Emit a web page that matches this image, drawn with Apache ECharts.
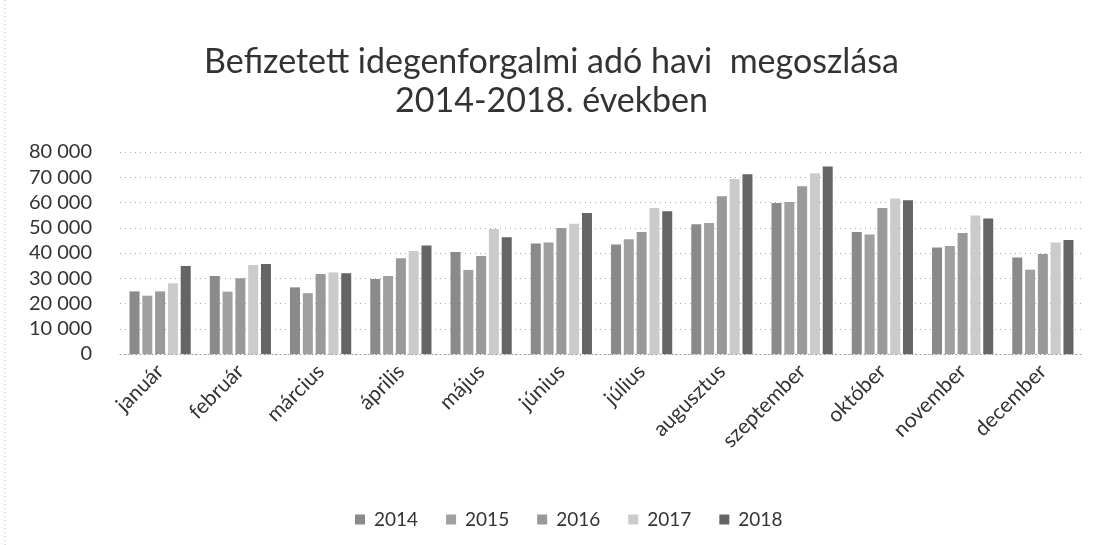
<!DOCTYPE html>
<html>
<head>
<meta charset="utf-8">
<script src="https://cdn.jsdelivr.net/npm/echarts@6/dist/echarts.min.js"></script>
<style>
  html, body { margin: 0; padding: 0; background: #fff; }
  #chart { width: 1103px; height: 545px; }
</style>
</head>
<body>
<div id="chart"></div>
<script>
// Monthly tourist tax receipts (HUF thousand), 2014–2018
const months = ['január', 'február', 'március', 'április', 'május', 'június',
  'július', 'augusztus', 'szeptember', 'október', 'november', 'december'];
const years = ['2014', '2015', '2016', '2017', '2018'];

const v2014 = [24800, 30900, 26400, 29700, 40400, 43800, 43400, 51400, 59800, 48300, 42200, 38200];
const v2015 = [23100, 24700, 24100, 30900, 33300, 44200, 45400, 51900, 60200, 47300, 42800, 33400];
const v2016 = [24800, 30000, 31700, 37900, 38800, 49900, 48300, 62500, 66400, 57800, 47900, 39600];
const v2017 = [28000, 35200, 32300, 40800, 49500, 51600, 57800, 69300, 71600, 61600, 54900, 44200];
const v2018 = [34900, 35600, 32000, 43000, 46200, 55800, 56500, 71200, 74300, 60900, 53700, 45100];

const yTicks = { min: 0, max: 80000, interval: 10000 };

const seriesValues = [v2014, v2015, v2016, v2017, v2018];
const barColors = ['#8a8a8a', '#a0a0a0', '#999999', '#cbcbcb', '#656565'];

const font = 'Lato, "Open Sans", sans-serif';
const chart = echarts.init(document.getElementById('chart'));

chart.setOption({
  backgroundColor: '#ffffff',
  animation: false,
  title: {
    text: 'Befizetett idegenforgalmi adó havi  megoszlása\n2014-2018. években',
    left: 'center',
    top: 38,
    textStyle: {
      fontFamily: font,
      fontSize: 34,
      fontWeight: 'normal',
      color: '#333',
      lineHeight: 39
    }
  },
  legend: {
    bottom: 11,
    left: 350,
    itemWidth: 10,
    itemHeight: 10,
    itemGap: 28,
    icon: 'rect',
    textStyle: { fontFamily: font, fontSize: 19, color: '#333', padding: [0, 0, 0, 4] },
    data: years
  },
  grid: { left: 120, right: 20, top: 152, bottom: 191 },
  xAxis: {
    type: 'category',
    data: months,
    axisTick: { show: false },
    axisLine: { show: true, lineStyle: { color: '#999', type: [1, 3] } },
    axisLabel: {
      rotate: 45,
      fontFamily: font,
      fontSize: 21,
      color: '#333',
      margin: 14,
      interval: 0
    }
  },
  yAxis: {
    type: 'value',
    min: yTicks.min,
    max: yTicks.max,
    interval: yTicks.interval,
    axisLine: { show: false },
    axisTick: { show: false },
    splitLine: { lineStyle: { color: '#aaa', type: [1, 4] } },
    axisLabel: {
      fontFamily: font,
      fontSize: 20,
      color: '#333',
      margin: 28,
      formatter: v => v === 0 ? '0' : String(v).replace(/\B(?=(\d{3})+(?!\d))/g, ' ')
    }
  },
  series: years.map((y, i) => ({
    name: y,
    type: 'bar',
    data: seriesValues[i],
    barWidth: 10,
    barGap: '28%',
    itemStyle: { color: barColors[i] }
  })),
  graphic: [{
    type: 'line',
    shape: { x1: 5, y1: 0, x2: 5, y2: 545 },
    style: { stroke: '#bbb', lineWidth: 1, lineDash: [1, 3] }
  }]
});
</script>
</body>
</html>
